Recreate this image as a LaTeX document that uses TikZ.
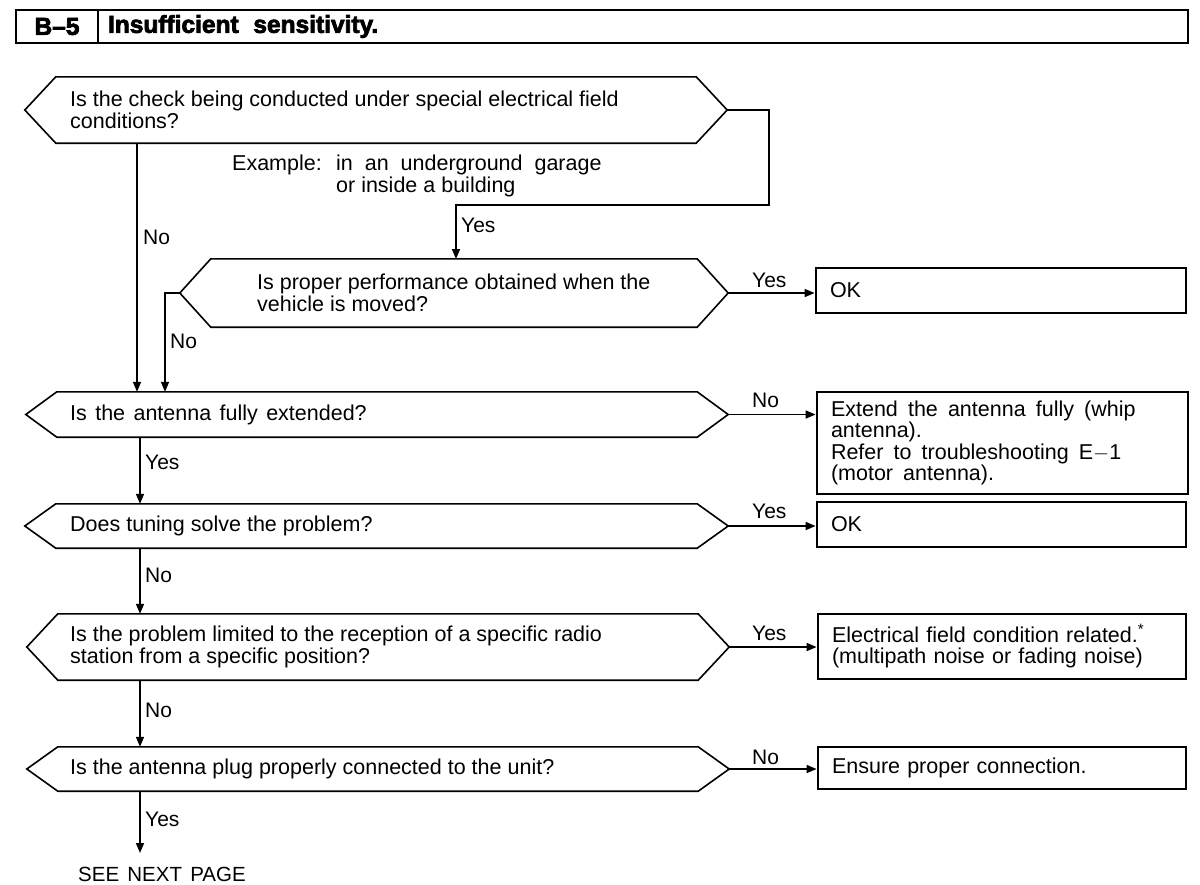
\documentclass[tikz,border=0pt]{standalone}
\usepackage{fontspec}
\setmainfont{Liberation Sans}
\newfontfamily\hdrfont{Liberation Sans Bold}[FakeBold=3]
\usetikzlibrary{arrows.meta}
\newcommand\wsp[1][0.47em]{\hspace{#1}}
\newcommand\decis[7]{%
  \node[inner sep=0, minimum width={#3-#2}, minimum height={#5-#4}] (#1) at ({(#2+#3)/2},{(#4+#5)/2}) {};
  \draw[dline] (#1.west) -- ([xshift=31pt]#1.north west) -- ([xshift=-31pt]#1.north east) -- (#1.east)
     -- ([xshift=-31pt]#1.south east) -- ([xshift=31pt]#1.south west) -- cycle;
  \node[qtext] (#1t) at (#6,{(#4+#5)/2}) {#7};
}
\tikzset{
  dline/.style={line width=1.6pt, line join=miter},
  conn/.style={line width=1.6pt},
  arr/.style={conn, -{Triangle[length=10pt,width=8pt]}},
  qtext/.style={anchor=west, align=left, inner sep=0, font=\fontsize{21.5}{22.5}\selectfont},
  lbl/.style={anchor=west, inner sep=0, font=\fontsize{21}{22}\selectfont},
  rbox/.style={draw, line width=2.8pt, inner ysep=0, inner xsep=14pt, align=left,
     font=\fontsize{21.5}{21.5}\selectfont},
  hbox/.style={draw, line width=2.8pt, inner ysep=0, minimum height=33, font=\hdrfont\fontsize{24.5}{25}\selectfont},
}
\begin{document}
\begin{tikzpicture}[x=1pt,y=-1pt]
\useasboundingbox (0,0) rectangle (1200,884);
\fill[white] (0,0) rectangle (1200,884);

% header
\node[hbox, minimum width=82, inner xsep=0] (hb) at (57,26.5) {B–5};
\node[hbox, minimum width=1090, text width=1070, inner xsep=10pt, align=left] (ht) at (643,26.5) {Insufficient\wsp[0.6em]sensitivity.};

% decisions
\decis{d1}{25}{727}{77}{143}{70}{Is the check being conducted under special electrical field\\conditions?}
\decis{d2}{180}{728}{259}{327}{257}{Is proper performance obtained when the\\vehicle is moved?}
\decis{d3}{26}{728}{392}{437}{70}{Is\wsp[0.39em]the\wsp[0.39em]antenna\wsp[0.39em]fully\wsp[0.39em]extended?}
\decis{d4}{25}{728}{504}{548}{70}{Does tuning solve the problem?}
\decis{d5}{27}{729}{614}{680}{70}{Is the problem limited to the reception of a specific radio\\station from a specific position?}
\decis{d6}{27}{729}{747}{791}{70}{Is the antenna plug properly connected to the unit?}

% example text
\node[lbl, font=\fontsize{21.5}{22}\selectfont] (ex1) at (232,165) {Example:};
\node[lbl, align=left, font=\fontsize{21.5}{22}\selectfont] (ex2) at (336,176) {in\ \ an\ \ underground\ \ garage\\or inside a building};

% result boxes
\node[rbox, minimum width=370, minimum height=45, text width=342] (ok1) at (1001,290.5) {OK};
\node[rbox, minimum width=371, minimum height=102, text width=343] (e1) at (1002.5,443)
  {Extend\wsp the\wsp antenna\wsp fully\wsp (whip\\antenna).\\Refer\wsp to\wsp troubleshooting\wsp E$-$1\\(motor\wsp antenna).};
\node[rbox, minimum width=369, minimum height=45, text width=341] (ok2) at (1001.5,524.5) {OK};
\node[rbox, minimum width=368, minimum height=65, text width=340] (f1) at (1002,646.5)
  {Electrical field condition related.\textsuperscript{*}\\(multipath noise or fading noise)};
\node[rbox, minimum width=368, minimum height=42, text width=340] (g1) at (1002,768) {Ensure proper connection.};

% guide coordinates
\coordinate (xa) at (137,0);
\coordinate (xb) at (165,0);
\coordinate (xc) at (140,0);
\coordinate (cr) at (769,205);
\coordinate (d2in) at (456,259);
\coordinate (end6) at (140,853);

% connectors
\draw[arr] (d1.east) -| (cr) -| (d2in);
\draw[arr] (d1.south -| xa) -- (d3.north -| xa);
\draw[arr] (d2.west) -| (d3.north -| xb);
\draw[arr] (d2.east) -- (ok1.west |- d2.east);
\draw[arr] (d3.east) -- (e1.west |- d3.east);
\draw[arr] (d3.south -| xc) -- (d4.north -| xc);
\draw[arr] (d4.east) -- (ok2.west |- d4.east);
\draw[arr] (d4.south -| xc) -- (d5.north -| xc);
\draw[arr] (d5.east) -- (f1.west |- d5.east);
\draw[arr] (d5.south -| xc) -- (d6.north -| xc);
\draw[arr] (d6.east) -- (g1.west |- d6.east);
\draw[arr] (d6.south -| xc) -- (end6);

% labels
\node[lbl] (l1) at (461,225) {Yes};
\node[lbl] (l2) at (143,237) {No};
\node[lbl] (l3) at (170,341) {No};
\node[lbl] (l4) at (752,280) {Yes};
\node[lbl] (l5) at (752,400) {No};
\node[lbl] (l6) at (145,462) {Yes};
\node[lbl] (l7) at (752,511) {Yes};
\node[lbl] (l8) at (145,575) {No};
\node[lbl] (l9) at (752,633) {Yes};
\node[lbl] (l10) at (145,710) {No};
\node[lbl] (l11) at (752,757) {No};
\node[lbl] (l12) at (145,819) {Yes};
\node[lbl, font=\fontsize{20.5}{22}\selectfont] (snp) at (78,874) {SEE\wsp[0.4em]NEXT\wsp[0.4em]PAGE};
\end{tikzpicture}
\end{document}
